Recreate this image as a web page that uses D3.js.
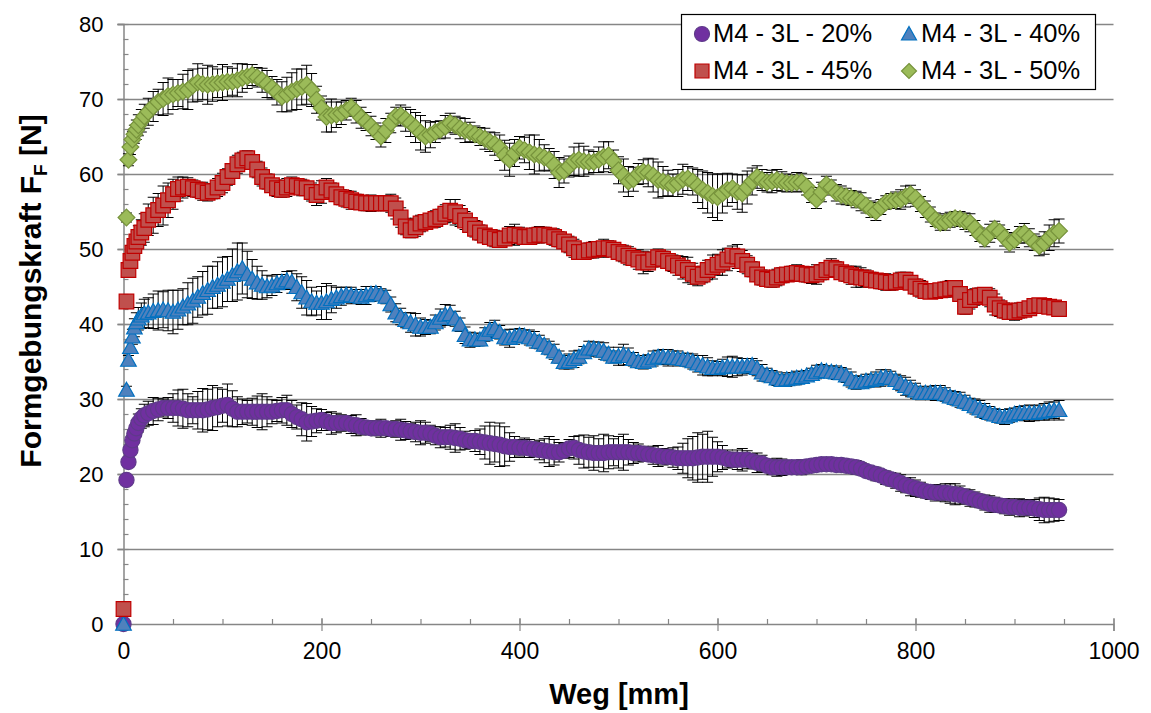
<!DOCTYPE html>
<html>
<head>
<meta charset="utf-8">
<script src="https://cdn.jsdelivr.net/npm/d3@7/dist/d3.min.js"></script>
<style>
  html, body { margin: 0; padding: 0; background: #fff; }
  svg { display: block; font-family: "Liberation Sans", Arial, sans-serif; }
</style>
</head>
<body>
<svg id="chart" width="1151" height="713"></svg>
<script>
// Sampling positions along the path [mm]
const wegStart = [0, 3, 5, 7, 9, 11, 13, 15, 18, 21];
const wegGrid = d3.range(25, 950, 5); // 25 ... 945 mm
const weg = wegStart.concat(wegGrid);

const xTicks = [0, 200, 400, 600, 800, 1000];
const yTicks = [0, 10, 20, 30, 40, 50, 60, 70, 80];

const seriesNames = ["M4 - 3L - 20%", "M4 - 3L - 40%", "M4 - 3L - 45%", "M4 - 3L - 50%"];

// Mean forming force [N], one value per sample position
const force20 = [
  0, 19.2, 21.6, 23.2, 24.5, 25.4, 26.1, 26.8, 27.4, 27.8,
  28.1, 28.4, 28.6, 28.8, 28.8, 28.8, 28.8, 28.7, 28.5, 28.5,
  28.5, 28.5, 28.6, 28.8, 28.9, 29.1, 29.2, 28.7, 28.3, 28.3,
  28.3, 28.3, 28.3, 28.3, 28.3, 28.3, 28.4, 28.5, 28.5, 28.0,
  27.6, 27.3, 26.9, 27.0, 27.1, 27.2, 27.0, 26.8, 26.8, 26.8,
  26.8, 26.6, 26.5, 26.3, 26.2, 26.1, 26.1, 26.1, 26.1, 26.0,
  26.0, 25.9, 25.8, 25.7, 25.6, 25.5, 25.5, 25.4, 25.1, 24.9,
  24.9, 24.9, 24.8, 24.7, 24.5, 24.4, 24.4, 24.3, 24.2, 24.1,
  24.0, 23.9, 23.7, 23.6, 23.6, 23.5, 23.5, 23.4, 23.3, 23.2,
  23.1, 23.0, 22.9, 22.9, 23.1, 23.4, 23.5, 23.2, 23.0, 22.9,
  22.8, 22.8, 22.8, 22.9, 22.9, 22.9, 22.9, 22.9, 22.8, 22.8,
  22.7, 22.6, 22.5, 22.4, 22.3, 22.3, 22.2, 22.1, 22.1, 22.1,
  22.1, 22.2, 22.3, 22.3, 22.3, 22.3, 22.2, 22.0, 21.9, 21.9,
  21.9, 21.9, 21.7, 21.5, 21.4, 21.1, 20.9, 20.9, 20.9, 20.9,
  20.9, 20.9, 20.9, 21.0, 21.1, 21.2, 21.3, 21.3, 21.3, 21.2,
  21.2, 21.1, 21.0, 20.9, 20.7, 20.4, 20.2, 20.0, 19.8, 19.5,
  19.3, 19.1, 18.8, 18.5, 18.3, 18.1, 17.9, 17.7, 17.6, 17.5,
  17.5, 17.5, 17.4, 17.3, 17.2, 17.0, 16.8, 16.6, 16.4, 16.2,
  16.0, 15.9, 15.8, 15.7, 15.6, 15.6, 15.5, 15.5, 15.5, 15.4,
  15.3, 15.2, 15.2, 15.2, 15.2
];
const force40 = [
  0, 31.2, 35.2, 36.9, 38.3, 39.5, 40.2, 40.7, 41.1, 41.4,
  41.5, 41.7, 41.8, 41.9, 41.8, 41.6, 41.9, 42.3, 42.7, 43.1,
  43.6, 44.1, 44.5, 44.9, 45.2, 45.6, 46.0, 46.5, 47.0, 47.4,
  46.6, 46.0, 45.5, 45.2, 45.0, 45.1, 45.4, 45.6, 45.8, 45.6,
  44.9, 44.2, 43.5, 43.0, 42.8, 42.8, 43.0, 43.3, 43.5, 43.7,
  43.9, 43.8, 43.7, 43.6, 43.8, 44.0, 44.1, 43.9, 43.6, 42.6,
  41.5, 41.0, 40.5, 40.2, 39.9, 39.6, 39.6, 39.6, 40.2, 40.8,
  41.2, 41.3, 40.7, 39.9, 38.5, 37.9, 37.9, 37.9, 38.6, 39.2,
  39.4, 38.9, 38.2, 38.1, 38.3, 38.5, 38.4, 38.2, 37.9, 37.6,
  37.2, 36.8, 36.3, 35.6, 34.9, 35.0, 35.3, 35.6, 36.2, 36.7,
  36.7, 36.6, 36.4, 36.0, 35.6, 35.7, 35.9, 35.7, 35.3, 35.0,
  34.9, 35.1, 35.4, 35.6, 35.6, 35.5, 35.5, 35.4, 35.3, 35.2,
  35.0, 34.7, 34.5, 34.3, 34.1, 34.1, 34.2, 34.3, 34.3, 34.3,
  34.3, 34.4, 34.5, 34.1, 33.5, 33.2, 33.0, 32.7, 32.5, 32.6,
  32.7, 32.8, 32.9, 33.1, 33.3, 33.6, 33.8, 33.7, 33.6, 33.5,
  33.4, 33.1, 32.6, 32.2, 32.2, 32.4, 32.5, 32.6, 32.8, 32.9,
  32.8, 32.5, 32.1, 31.7, 31.4, 31.1, 30.8, 30.8, 30.8, 30.8,
  30.8, 30.6, 30.3, 30.1, 29.9, 29.6, 29.3, 29.0, 28.7, 28.4,
  28.1, 27.9, 27.7, 27.6, 27.8, 28.0, 28.1, 28.1, 28.1, 28.1,
  28.2, 28.3, 28.4, 28.5, 28.5
];
const force45 = [
  2.0, 43.0, 47.2, 48.4, 49.5, 50.4, 51.0, 51.6, 52.2, 52.8,
  53.9, 54.5, 55.2, 55.8, 56.5, 57.3, 58.0, 58.2, 58.3, 58.1,
  57.9, 57.7, 57.5, 57.7, 58.2, 58.8, 59.6, 60.4, 61.3, 61.8,
  62.1, 61.6, 60.6, 59.6, 59.0, 58.5, 58.1, 57.9, 58.2, 58.5,
  58.4, 58.2, 58.1, 57.6, 57.2, 57.6, 58.2, 57.8, 57.3, 56.9,
  56.7, 56.5, 56.3, 56.2, 56.1, 56.1, 56.1, 56.1, 56.1, 56.1,
  55.4, 54.2, 53.0, 52.5, 52.9, 53.4, 53.6, 53.8, 54.0, 54.3,
  54.7, 55.1, 54.9, 54.4, 53.8, 53.2, 52.7, 52.2, 51.8, 51.6,
  51.4, 51.2, 51.4, 51.8, 51.9, 51.8, 51.6, 51.6, 51.8, 51.9,
  51.9, 51.8, 51.6, 51.3, 51.0, 50.6, 50.1, 49.6, 49.6, 49.8,
  49.9, 50.0, 50.1, 50.1, 49.9, 49.6, 49.4, 49.1, 48.8, 48.6,
  48.2, 48.2, 48.6, 48.9, 48.7, 48.4, 48.1, 47.8, 47.5, 47.2,
  46.7, 46.3, 46.6, 47.2, 47.6, 47.9, 48.2, 48.6, 49.1, 49.0,
  48.4, 47.9, 47.3, 46.6, 46.2, 46.0, 45.9, 46.2, 46.5, 46.6,
  46.7, 46.8, 46.7, 46.6, 46.5, 46.6, 46.9, 47.2, 47.5, 47.3,
  46.9, 46.7, 46.5, 46.3, 46.2, 46.1, 45.9, 45.8, 45.7, 45.6,
  45.5, 45.6, 45.8, 45.9, 45.5, 45.0, 44.7, 44.4, 44.3, 44.4,
  44.5, 44.6, 44.7, 44.8, 44.0, 42.3, 43.2, 43.6, 43.8, 43.9,
  43.5, 42.6, 42.1, 41.8, 41.6, 41.6, 41.8, 41.9, 42.1, 42.4,
  42.5, 42.4, 42.3, 42.2, 42.0
];
const force50 = [
  null, 54.2, 61.9, 63.6, 64.6, 65.3, 65.9, 66.5, 67.1, 67.7,
  68.3, 69.0, 69.6, 70.0, 70.4, 70.6, 70.8, 71.0, 71.2, 71.8,
  72.2, 72.0, 71.9, 72.0, 72.1, 72.2, 72.3, 72.3, 72.5, 72.8,
  73.0, 73.2, 72.9, 72.5, 72.0, 71.5, 70.9, 70.3, 70.6, 71.0,
  71.3, 71.6, 71.9, 71.2, 69.9, 68.8, 67.6, 67.8, 67.9, 68.1,
  68.5, 68.9, 68.3, 67.5, 67.0, 66.4, 65.7, 65.0, 65.8, 66.8,
  67.7, 67.8, 67.3, 66.8, 66.2, 65.5, 65.0, 65.2, 65.6, 65.9,
  66.3, 66.8, 66.5, 66.1, 65.8, 65.6, 65.3, 65.0, 64.7, 64.3,
  64.0, 63.5, 62.5, 61.9, 62.8, 63.5, 63.2, 62.9, 62.6, 62.5,
  62.2, 61.9, 61.2, 60.2, 60.4, 61.0, 61.7, 61.9, 61.7, 61.6,
  61.6, 61.9, 62.3, 62.5, 61.7, 60.5, 59.8, 59.0, 59.3, 60.0,
  60.3, 60.2, 59.8, 59.2, 59.0, 58.8, 58.5, 58.8, 59.3, 59.4,
  59.0, 58.4, 57.9, 57.5, 57.1, 56.9, 57.4, 57.9, 58.1, 57.6,
  57.4, 58.2, 59.0, 59.6, 59.2, 58.9, 59.0, 59.2, 59.0, 58.8,
  58.8, 58.9, 58.9, 58.3, 57.2, 56.6, 57.6, 58.6, 58.2, 57.5,
  57.2, 57.0, 56.8, 56.6, 56.3, 55.8, 55.3, 55.0, 55.6, 56.2,
  56.4, 56.5, 56.6, 57.0, 57.3, 56.8, 56.0, 55.3, 54.6, 53.9,
  53.5, 53.6, 53.9, 54.1, 54.0, 53.7, 53.5, 52.8, 51.9, 51.4,
  52.1, 52.7, 52.3, 51.5, 50.8, 51.2, 51.9, 52.1, 51.5, 50.9,
  50.4, 50.8, 51.5, 52.1, 52.4
];

// Standard deviation of the forming force [N]
const err20 = [
  0, 0.5, 0.5, 0.6, 0.8, 1.0, 1.0, 1.2, 1.3, 1.5,
  1.6, 1.8, 1.5, 1.2, 1.4, 1.9, 2.4, 2.6, 2.2, 1.8,
  2.5, 2.9, 2.7, 3.0, 2.6, 2.2, 2.8, 2.4, 2.0, 1.7,
  1.5, 1.8, 2.1, 2.4, 2.0, 1.6, 1.4, 1.7, 2.0, 1.8,
  1.6, 2.2, 2.5, 2.0, 1.6, 1.4, 1.2, 1.5, 1.3, 1.1,
  1.0, 1.2, 1.4, 1.1, 0.9, 0.8, 1.0, 1.2, 0.9, 1.0,
  1.1, 1.4, 1.2, 1.0, 1.3, 1.6, 1.4, 1.1, 1.2, 1.4,
  1.3, 1.6, 1.9, 1.5, 1.2, 1.0, 1.4, 1.7, 2.2, 2.8,
  2.4, 2.9, 2.6, 1.9, 1.4, 1.1, 1.3, 1.2, 1.0, 1.3,
  1.6, 2.0, 1.7, 1.3, 1.0, 1.2, 1.5, 1.9, 2.2, 2.0,
  2.3, 1.9, 2.5, 2.2, 1.8, 2.1, 2.4, 1.7, 1.4, 1.2,
  1.0, 0.9, 1.2, 1.4, 1.1, 1.0, 1.3, 1.5, 2.0, 2.6,
  2.9, 3.3, 3.0, 3.4, 2.6, 2.0, 1.6, 1.2, 1.0, 1.3,
  1.5, 1.2, 1.0, 1.3, 1.1, 0.9, 1.0, 1.2, 1.1, 0.9,
  0.8, 0.9, 1.0, 0.8, 0.7, 0.8, 0.9, 0.8, 0.7, 0.8,
  0.8, 0.7, 0.8, 0.9, 0.8, 0.7, 0.8, 0.9, 0.8, 0.9,
  0.9, 1.0, 1.1, 1.0, 1.2, 1.1, 1.0, 0.9, 1.0, 1.1,
  1.0, 1.2, 1.3, 1.4, 1.2, 1.0, 1.1, 1.0, 0.9, 1.0,
  1.1, 1.0, 0.9, 1.0, 1.1, 1.0, 1.2, 1.1, 1.0, 1.2,
  1.5, 1.7, 1.6, 1.5, 1.4
];
const err40 = [
  0, 0.5, 0.6, 0.8, 1.0, 1.2, 1.3, 1.5, 1.7, 1.9,
  2.0, 2.3, 2.6, 2.4, 2.7, 2.9, 2.6, 2.4, 2.8, 3.0,
  2.7, 2.9, 3.2, 2.8, 3.1, 3.3, 3.0, 3.5, 3.8, 3.4,
  3.1, 2.6, 2.2, 1.9, 1.5, 1.3, 1.2, 1.0, 1.2, 1.5,
  1.8, 2.1, 2.3, 1.9, 1.6, 2.2, 2.4, 1.8, 1.4, 1.2,
  1.0, 1.1, 0.9, 1.0, 1.2, 1.0, 0.9, 0.8, 0.9, 1.0,
  1.2, 1.1, 1.0, 1.3, 1.5, 1.2, 1.0, 0.9, 1.0, 1.2,
  1.4, 1.2, 1.0, 0.9, 1.1, 1.0, 0.9, 0.8, 0.9, 1.0,
  1.1, 0.9, 1.0, 1.2, 1.0, 0.9, 0.8, 1.0, 1.1, 0.9,
  0.8, 0.9, 1.0, 0.8, 0.9, 1.0, 1.1, 0.9, 0.8, 1.0,
  0.9, 1.0, 1.1, 0.9, 0.8, 1.2, 1.4, 1.1, 0.9, 0.8,
  0.9, 0.8, 1.0, 0.9, 1.0, 1.1, 0.9, 1.0, 0.8, 0.9,
  1.0, 1.1, 1.3, 1.2, 1.0, 0.9, 1.1, 1.3, 1.4, 1.2,
  1.1, 1.0, 0.9, 1.0, 1.1, 0.9, 0.8, 0.9, 0.8, 0.9,
  0.8, 0.9, 0.8, 0.7, 0.8, 0.9, 0.8, 0.7, 0.8, 0.9,
  0.8, 0.9, 1.0, 0.9, 0.8, 0.9, 0.8, 1.0, 1.1, 1.0,
  0.9, 0.8, 1.0, 1.2, 1.1, 1.0, 0.9, 0.8, 0.9, 1.0,
  1.0, 0.9, 0.8, 0.9, 1.0, 0.9, 0.8, 1.0, 1.1, 1.0,
  0.9, 0.8, 0.9, 1.0, 0.9, 0.8, 0.9, 1.0, 1.1, 1.0,
  1.0, 1.1, 1.2, 1.1, 1.3
];
const err45 = [
  0, 0.6, 0.8, 1.0, 1.0, 1.2, 1.3, 1.5, 1.7, 1.9,
  2.1, 2.4, 2.2, 2.6, 2.3, 2.0, 1.6, 1.4, 1.2, 1.1,
  1.0, 1.2, 1.1, 1.0, 1.2, 1.3, 1.1, 1.0, 1.2, 1.1,
  1.0, 0.9, 1.1, 1.2, 1.0, 0.9, 1.1, 1.0, 1.2, 1.1,
  1.0, 1.1, 0.9, 1.2, 1.4, 1.5, 1.2, 1.0, 0.9, 1.0,
  1.1, 1.2, 1.0, 0.9, 1.0, 1.1, 1.0, 0.9, 1.0, 1.2,
  1.4, 1.3, 1.1, 1.0, 1.2, 1.1, 1.0, 0.9, 1.1, 1.0,
  1.2, 1.5, 1.7, 1.4, 1.2, 1.0, 1.1, 1.0, 0.9, 1.0,
  1.1, 1.0, 0.9, 1.2, 1.4, 1.1, 1.0, 0.9, 1.0, 1.1,
  1.0, 0.9, 1.1, 1.0, 0.9, 1.1, 1.2, 1.0, 0.9, 1.0,
  1.1, 1.0, 1.2, 1.0, 0.9, 1.0, 1.1, 1.2, 1.0, 1.3,
  1.5, 1.2, 1.0, 1.1, 1.0, 0.9, 1.1, 1.3, 1.5, 1.7,
  1.4, 1.2, 1.1, 1.3, 1.6, 1.4, 1.7, 1.5, 1.3, 1.6,
  1.4, 1.2, 1.0, 0.9, 1.0, 0.9, 1.0, 1.1, 1.0, 0.9,
  1.0, 1.1, 0.9, 1.0, 1.1, 1.3, 1.0, 0.9, 1.2, 1.0,
  0.9, 1.0, 1.2, 1.4, 1.3, 1.1, 1.0, 0.9, 1.0, 1.1,
  1.0, 0.9, 1.1, 1.0, 0.9, 1.0, 1.1, 1.0, 0.9, 1.0,
  0.9, 1.0, 1.1, 1.0, 0.9, 1.0, 1.2, 1.1, 1.0, 0.9,
  1.2, 1.4, 1.1, 1.0, 0.9, 1.1, 1.0, 0.9, 0.8, 0.9,
  0.8, 0.9, 0.8, 0.9, 0.8
];
const err50 = [
  0, 0.6, 0.8, 1.0, 1.1, 1.2, 1.3, 1.4, 1.5, 1.6,
  1.8, 2.0, 1.7, 2.2, 2.4, 2.0, 1.8, 2.3, 2.6, 2.2,
  2.5, 2.1, 2.6, 2.3, 1.9, 2.4, 2.0, 1.8, 2.2, 1.9,
  1.6, 1.4, 1.3, 1.6, 1.8, 1.5, 1.7, 2.0, 2.3, 2.5,
  2.7, 2.4, 2.6, 2.2, 1.8, 1.6, 2.0, 2.2, 1.7, 1.5,
  1.3, 1.2, 1.5, 1.4, 1.2, 1.3, 1.1, 1.4, 1.6, 1.3,
  1.2, 1.4, 1.6, 1.8, 2.0, 2.3, 2.1, 1.7, 1.4, 1.2,
  1.5, 1.3, 1.2, 1.4, 1.6, 1.3, 1.1, 1.2, 1.4, 1.3,
  1.5, 1.7, 2.0, 2.2, 1.8, 1.5, 1.7, 2.3, 2.6, 2.1,
  1.7, 1.5, 1.8, 2.0, 1.6, 1.4, 1.9, 2.2, 2.0, 1.6,
  1.4, 1.7, 2.0, 1.8, 1.5, 1.8, 2.2, 2.0, 1.6, 1.4,
  1.6, 1.9, 2.2, 2.4, 2.0, 1.7, 1.5, 1.8, 2.0, 1.6,
  1.8, 2.2, 2.5, 2.7, 2.9, 3.1, 2.6, 2.2, 1.9, 2.3,
  2.5, 2.2, 1.8, 1.5, 1.4, 1.3, 1.5, 1.4, 1.3, 1.2,
  1.1, 1.3, 1.2, 1.1, 1.0, 1.2, 1.3, 1.1, 1.0, 1.1,
  1.2, 1.1, 1.0, 1.1, 1.2, 1.0, 1.1, 1.2, 1.0, 0.9,
  1.0, 1.1, 1.3, 1.4, 1.2, 1.1, 1.0, 1.1, 1.0, 0.9,
  1.0, 1.1, 1.0, 0.9, 1.0, 1.1, 1.2, 1.0, 0.9, 1.1,
  1.2, 1.0, 0.9, 1.1, 1.2, 1.0, 1.1, 1.3, 1.2, 1.1,
  1.3, 1.5, 1.7, 1.8, 1.6
];

const forces = [force20, force40, force45, force50];
const errors = [err20, err40, err45, err50];

// Marker styling for each series
const fills   = ["#7030A0", "#4F81BD", "#C0504D", "#9BBB59"];
const strokes = ["#5F3A8A", "#0070C0", "#C00000", "#77933C"];
const shapes  = ["circle", "triangle", "square", "diamond"];

const svg = d3.select("#chart");
const plot = { left: 123.5, right: 1113.5, top: 24, bottom: 624 };

const x = d3.scaleLinear().domain([0, 1000]).range([plot.left, plot.right]);
const y = d3.scaleLinear().domain([0, 80]).range([plot.bottom, plot.top]);

const gridColor = "#868686";

// Horizontal gridlines
svg.append("g")
  .selectAll("line")
  .data(yTicks.filter(v => v > 0))
  .join("line")
  .attr("x1", plot.left - 6).attr("x2", plot.right)
  .attr("y1", d => Math.round(y(d)) + 0.5).attr("y2", d => Math.round(y(d)) + 0.5)
  .attr("stroke", gridColor).attr("stroke-width", 1.5);

// Y axis with outward major ticks and inward minor ticks
const yAxis = svg.append("g").attr("transform", `translate(${plot.left},0)`)
  .call(d3.axisLeft(y).tickValues(yTicks).tickSize(6).tickPadding(14).tickFormat(d3.format("d")));
yAxis.select(".domain").attr("stroke", gridColor).attr("stroke-width", 1.5);
yAxis.selectAll(".tick line").attr("stroke", gridColor).attr("stroke-width", 1.5);
yAxis.selectAll(".tick text").attr("font-size", 22).attr("fill", "#000")
  .attr("font-family", "Liberation Sans, Arial, sans-serif");
svg.append("g").attr("transform", `translate(${plot.left},0)`)
  .call(d3.axisRight(y).ticks(40).tickSize(5).tickFormat(""))
  .call(g => g.select(".domain").remove())
  .call(g => g.selectAll(".tick line").attr("stroke", gridColor).attr("stroke-width", 1.2));

// X axis with crossing major ticks and inward minor ticks
const xAxis = svg.append("g").attr("transform", `translate(0,${plot.bottom})`)
  .call(d3.axisBottom(x).tickValues(xTicks).tickSize(7).tickPadding(12).tickFormat(d3.format("d")));
xAxis.select(".domain").attr("stroke", gridColor).attr("stroke-width", 1.5);
xAxis.selectAll(".tick line").attr("stroke", gridColor).attr("stroke-width", 1.2).attr("y1", -6);
xAxis.selectAll(".tick text").attr("font-size", 23).attr("fill", "#000")
  .attr("font-family", "Liberation Sans, Arial, sans-serif");
svg.append("g").attr("transform", `translate(0,${plot.bottom})`)
  .call(d3.axisTop(x).ticks(25).tickSize(5).tickFormat(""))
  .call(g => g.select(".domain").remove())
  .call(g => g.selectAll(".tick line").attr("stroke", gridColor).attr("stroke-width", 1.2));

// Axis titles
svg.append("text")
  .attr("x", 619).attr("y", 704)
  .attr("text-anchor", "middle")
  .attr("font-size", 29).attr("font-weight", "bold")
  .text("Weg [mm]");

const yTitle = svg.append("text")
  .attr("transform", "translate(41,291) rotate(-90)")
  .attr("text-anchor", "middle")
  .attr("font-size", 30).attr("font-weight", "bold");
yTitle.append("tspan").text("Formgebungskraft F");
yTitle.append("tspan").attr("font-size", 19).attr("dy", 6).text("F");
yTitle.append("tspan").attr("dy", -6).text(" [N]");

// Marker shapes
const shapePath = {
  circle: r => `M${r},0A${r},${r} 0 1,1 ${-r},0A${r},${r} 0 1,1 ${r},0Z`,
  square: r => `M${-r},${-r}H${r}V${r}H${-r}Z`,
  triangle: r => `M0,${-r}L${r},${r * 0.8}H${-r}Z`,
  diamond: r => `M0,${-r}L${r},0L0,${r}L${-r},0Z`
};

const points = forces.map((arr, s) =>
  weg.map((w, i) => ({ w, v: arr[i], e: errors[s][i] }))
     .filter(p => p.v !== null && p.v !== undefined));

// Error bars, drawn beneath the markers
const capHalf = 5.5;
const errG = svg.append("g").attr("stroke", "#000").attr("stroke-width", 1);
points.forEach(pts => {
  const g = errG.append("g");
  pts.filter(p => p.e > 0).forEach(p => {
    const cx = x(p.w), y1 = y(p.v + p.e), y2 = y(p.v - p.e);
    g.append("line").attr("x1", cx).attr("x2", cx).attr("y1", y1).attr("y2", y2);
    g.append("line").attr("x1", cx - capHalf).attr("x2", cx + capHalf).attr("y1", y1).attr("y2", y1);
    g.append("line").attr("x1", cx - capHalf).attr("x2", cx + capHalf).attr("y1", y2).attr("y2", y2);
  });
});

// Markers
const markerR = [7.6, 7.8, 7.3, 8.4];
points.forEach((pts, s) => {
  svg.append("g")
    .selectAll("path")
    .data(pts)
    .join("path")
    .attr("transform", p => `translate(${x(p.w)},${y(p.v)})`)
    .attr("d", shapePath[shapes[s]](markerR[s]))
    .attr("fill", fills[s])
    .attr("stroke", strokes[s])
    .attr("stroke-width", 1.2);
});

// Legend
const legend = svg.append("g");
legend.append("rect")
  .attr("x", 681.5).attr("y", 14.5).attr("width", 414).attr("height", 75)
  .attr("fill", "#fff").attr("stroke", "#000").attr("stroke-width", 1.2);
const legendPos = [
  { mx: 702, tx: 713, ty: 42 },
  { mx: 909, tx: 921, ty: 42 },
  { mx: 702, tx: 713, ty: 79 },
  { mx: 909, tx: 921, ty: 79 }
];
legendPos.forEach((p, s) => {
  legend.append("path")
    .attr("transform", `translate(${p.mx},${p.ty - 8})`)
    .attr("d", shapePath[shapes[s]](shapes[s] === "square" ? 7 : 7.5))
    .attr("fill", fills[s]).attr("stroke", strokes[s]).attr("stroke-width", 1.2);
  legend.append("text")
    .attr("x", p.tx).attr("y", p.ty)
    .attr("font-size", 25.5)
    .text(seriesNames[s]);
});
</script>
</body>
</html>
